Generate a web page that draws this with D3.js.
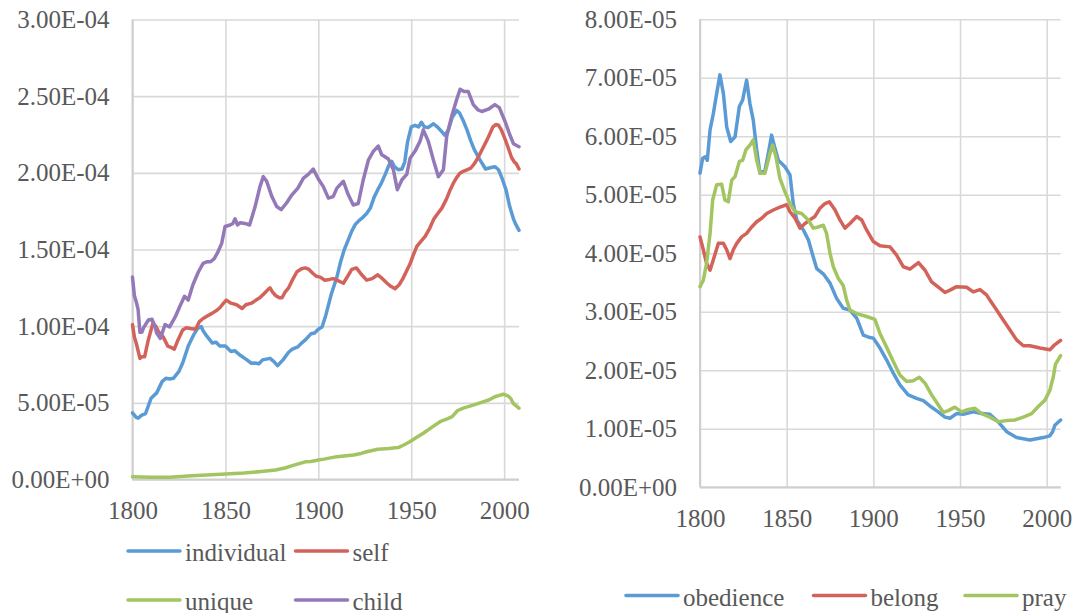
<!DOCTYPE html>
<html>
<head>
<meta charset="utf-8">
<script src="https://cdn.jsdelivr.net/npm/d3@7/dist/d3.min.js"></script>
<style>
body { margin: 0; background: #fff; }
svg text { font-family: "Liberation Serif", "DejaVu Serif", "Noto Serif", "Times New Roman", serif; fill: #595959; }
</style>
</head>
<body>
<svg width="1075" height="613"></svg>
<script>
// values are in units of 1e-5
var UNIT = 1e-5
var yearTicks = [1800, 1850, 1900, 1950, 2000]
var leftTicks = [0, 5, 10, 15, 20, 25, 30]
var rightTicks = [0, 1, 2, 3, 4, 5, 6, 7, 8]

var leftNames = ['individual', 'self', 'unique', 'child']
var rightNames = ['obedience', 'belong', 'pray']

var individual = [[1800,4.35],[1802,4.05],[1803,4.0],[1805,4.2],[1807,4.3],[1810,5.3],[1813,5.65],[1816,6.4],[1818,6.6],[1820,6.55],[1822,6.6],[1825,7.05],[1827,7.6],[1830,8.7],[1833,9.45],[1835,9.85],[1837,9.97],[1838,9.7],[1840,9.35],[1843,8.9],[1845,8.95],[1847,8.7],[1850,8.7],[1853,8.35],[1855,8.4],[1858,8.1],[1861,7.85],[1864,7.58],[1866,7.6],[1868,7.55],[1870,7.8],[1874,7.9],[1876,7.7],[1878,7.42],[1881,7.8],[1884,8.3],[1886,8.5],[1889,8.65],[1891,8.9],[1893,9.1],[1896,9.5],[1898,9.55],[1900,9.8],[1902,9.95],[1904,10.7],[1907,12.1],[1910,13.2],[1912,14.2],[1914,15.0],[1916,15.6],[1918,16.2],[1920,16.65],[1922,16.9],[1924,17.1],[1926,17.35],[1928,17.7],[1930,18.4],[1932,18.9],[1934,19.35],[1936,19.9],[1938,20.5],[1939.5,20.75],[1941,20.4],[1943,20.2],[1945,20.25],[1946.5,20.7],[1948,22.0],[1950,23.0],[1952,23.1],[1954,23.0],[1955.5,23.3],[1957,23.0],[1959,22.95],[1962,23.2],[1964,23.0],[1966,22.75],[1968,22.45],[1970,22.8],[1972,23.6],[1974.5,24.07],[1976,23.9],[1978,23.4],[1980,22.8],[1982,22.1],[1984,21.5],[1987,20.85],[1990,20.25],[1993,20.35],[1995,20.4],[1997,20.2],[1999,19.6],[2001,18.9],[2003,17.8],[2005,17.0],[2006,16.7],[2008,16.25]]

var self = [[1800,10.1],[1801,9.3],[1802,8.9],[1804,7.9],[1805,8.0],[1806.5,8.0],[1808.5,9.1],[1811,10.2],[1812.5,10.0],[1814,9.65],[1816.5,9.3],[1819,8.7],[1821,8.6],[1822.5,8.5],[1824.5,9.1],[1827,9.75],[1829,9.9],[1831,9.85],[1834,9.8],[1836,10.3],[1838,10.5],[1840,10.65],[1843,10.85],[1845,11.0],[1847,11.2],[1849,11.5],[1850.5,11.7],[1853,11.5],[1856,11.4],[1859,11.15],[1861,11.4],[1864,11.5],[1866.5,11.7],[1868.5,11.85],[1871,12.15],[1873,12.4],[1874,12.5],[1875.5,12.2],[1877,12.0],[1879,11.85],[1880.5,11.85],[1882,12.2],[1884,12.5],[1886,13.0],[1888.5,13.55],[1891,13.75],[1893,13.8],[1895,13.7],[1897,13.45],[1899,13.25],[1901,13.2],[1903.5,13.0],[1906,13.05],[1908,13.1],[1910,13.0],[1913.5,12.8],[1916,13.3],[1918,13.7],[1920.5,13.8],[1923,13.4],[1926,13.0],[1929,13.1],[1932,13.35],[1934.5,13.1],[1937,12.8],[1939,12.6],[1941.3,12.45],[1943.5,12.7],[1945.5,13.1],[1947.5,13.6],[1949.5,14.1],[1951,14.6],[1953,15.2],[1955,15.5],[1957.5,15.85],[1960,16.4],[1962,16.95],[1964,17.3],[1966.5,17.7],[1969,18.3],[1971,18.9],[1973,19.4],[1974.5,19.7],[1976,19.95],[1978,20.1],[1980,20.2],[1982,20.3],[1984,20.6],[1986,21.0],[1988.5,21.6],[1991,22.2],[1992.5,22.6],[1994,23.0],[1995.5,23.15],[1997,23.1],[1998.5,22.8],[2000.5,22.2],[2002,21.7],[2004,21.0],[2005.5,20.7],[2006.5,20.6],[2008,20.25]]

var unique = [[1800,0.18],[1810,0.15],[1820,0.14],[1832,0.25],[1840,0.3],[1850,0.36],[1860,0.42],[1868,0.51],[1877,0.62],[1882,0.75],[1886,0.9],[1893,1.15],[1896,1.17],[1900,1.27],[1903,1.33],[1910,1.49],[1919,1.6],[1923,1.7],[1926,1.81],[1932,1.97],[1938,2.02],[1943,2.08],[1946,2.25],[1949,2.45],[1953,2.75],[1956.5,3.02],[1961,3.4],[1965.5,3.77],[1970,3.99],[1972,4.1],[1975,4.5],[1978,4.65],[1982,4.8],[1985,4.92],[1989,5.08],[1992,5.2],[1995,5.4],[1997,5.47],[1999.6,5.56],[2002,5.45],[2003.5,5.3],[2005,4.95],[2006.5,4.8],[2008,4.65]]

var child = [[1800,13.2],[1801,12.0],[1802,11.6],[1803,11.1],[1804,9.6],[1805,9.6],[1806,9.9],[1808.5,10.4],[1810.5,10.45],[1812,10.0],[1813,9.55],[1815,9.2],[1817.5,10.1],[1820,9.95],[1823,10.6],[1825.5,11.3],[1828,11.95],[1830,11.7],[1832.5,12.7],[1835.5,13.55],[1838,14.1],[1840,14.2],[1842,14.2],[1844,14.4],[1846,14.85],[1848,15.4],[1849.8,16.5],[1852.5,16.6],[1854,16.7],[1855.2,17.0],[1856.5,16.6],[1858,16.75],[1860.5,16.7],[1863,16.6],[1866,17.8],[1868.6,19.1],[1870.4,19.75],[1872.2,19.45],[1875,18.45],[1877.6,17.8],[1880,17.6],[1883,18.05],[1885.7,18.55],[1889,19.0],[1892,19.65],[1894.6,19.9],[1897.3,20.25],[1900,19.6],[1902.7,19.1],[1905.4,18.35],[1908,18.45],[1910,19.0],[1913.5,19.45],[1916,18.6],[1918.8,17.9],[1921.5,18.0],[1924.2,19.55],[1927,20.85],[1929.6,21.4],[1932.3,21.75],[1934,21.2],[1937.7,20.9],[1940.4,20.2],[1942.5,18.9],[1945,19.55],[1947.6,19.9],[1949.4,20.95],[1952,21.4],[1954.7,22.05],[1956.5,22.8],[1959.2,22.05],[1961.9,20.85],[1964.6,19.75],[1967.3,20.2],[1969.1,22.4],[1971.8,23.7],[1974.5,24.8],[1976.3,25.45],[1978.4,25.3],[1980.7,25.3],[1983.4,24.45],[1986,24.1],[1988,24.0],[1991.5,24.15],[1995,24.45],[1997.4,24.25],[2000.5,23.35],[2003,22.5],[2005,21.9],[2008,21.7]]

var obedience = [[1800,5.37],[1801.5,5.62],[1803,5.65],[1804.2,5.59],[1805.8,6.11],[1807.7,6.39],[1809.6,6.73],[1811.5,7.05],[1813.5,6.73],[1815.4,6.16],[1817.7,5.91],[1820.2,5.99],[1822.7,6.51],[1824.6,6.62],[1826.9,6.96],[1828.8,6.56],[1830.7,6.28],[1832.7,5.77],[1834.6,5.37],[1837.5,5.42],[1839.4,5.71],[1841.3,6.02],[1843.3,5.79],[1845.2,5.59],[1849,5.48],[1851.9,5.34],[1853.8,4.85],[1855.8,4.57],[1859.6,4.4],[1862.5,4.23],[1865.3,3.94],[1867.3,3.74],[1871.1,3.65],[1875,3.49],[1878.8,3.23],[1882.6,3.06],[1886.5,3.03],[1890.4,2.89],[1894.2,2.6],[1898,2.56],[1900,2.55],[1903.8,2.38],[1907.6,2.18],[1911.5,1.95],[1915.3,1.75],[1920.1,1.58],[1924.9,1.52],[1928.8,1.48],[1932.6,1.39],[1937.4,1.29],[1941.3,1.2],[1944.2,1.18],[1948,1.26],[1951.8,1.25],[1957.6,1.29],[1962.5,1.26],[1967.2,1.25],[1972,1.12],[1976.9,0.95],[1982.6,0.85],[1990.3,0.81],[1998,0.85],[2001.8,0.88],[2003.4,0.95],[2004.7,1.06],[2008,1.15]]

var belong = [[1800,4.28],[1801.9,4.06],[1803.8,3.83],[1805.8,3.71],[1807.7,3.89],[1810.6,4.17],[1813.5,4.17],[1815.4,4.06],[1817.3,3.91],[1819.2,4.06],[1821.2,4.17],[1824,4.28],[1826.9,4.34],[1829.8,4.45],[1832.7,4.54],[1835.6,4.6],[1838.5,4.68],[1842.3,4.74],[1846.1,4.79],[1850,4.83],[1851.9,4.71],[1854.8,4.6],[1857.7,4.43],[1860.6,4.51],[1863.4,4.57],[1866.3,4.63],[1869.2,4.77],[1872.1,4.85],[1874.6,4.88],[1877.9,4.74],[1880.7,4.57],[1883.6,4.43],[1886.5,4.51],[1890.4,4.63],[1893.3,4.57],[1896.1,4.4],[1900,4.2],[1903.8,4.13],[1909.6,4.11],[1913.4,3.97],[1917.3,3.77],[1921.1,3.73],[1926,3.84],[1929.8,3.71],[1933.6,3.51],[1938.4,3.4],[1941.3,3.33],[1944.2,3.37],[1948,3.43],[1953.8,3.42],[1957.6,3.34],[1961.5,3.38],[1965.3,3.29],[1967.2,3.2],[1971.1,3.03],[1974.9,2.86],[1978.8,2.69],[1982.6,2.52],[1986.5,2.42],[1990.3,2.42],[1996.1,2.38],[2001.8,2.35],[2004,2.42],[2008,2.51]]

var pray = [[1800,3.43],[1801.9,3.54],[1803.8,3.83],[1805.8,4.34],[1807.3,4.91],[1809.6,5.17],[1812.5,5.18],[1814.4,4.91],[1816.3,4.88],[1818.3,5.25],[1820.2,5.31],[1822.7,5.57],[1824.6,5.59],[1826.5,5.77],[1828.8,5.85],[1830.7,5.94],[1832.7,5.59],[1834.6,5.37],[1837.5,5.37],[1840.4,5.71],[1841.9,5.85],[1843.8,5.65],[1846.1,5.28],[1849,5.05],[1851.9,4.85],[1854.8,4.71],[1858.6,4.68],[1862.5,4.57],[1865.3,4.43],[1868.2,4.45],[1871.1,4.48],[1873,4.34],[1875,4.0],[1876.9,3.77],[1879.8,3.57],[1882.6,3.45],[1884.6,3.2],[1886.5,3.03],[1890.4,2.97],[1896.1,2.92],[1900.9,2.87],[1903.8,2.63],[1907.6,2.4],[1911.5,2.15],[1915.3,1.92],[1919.2,1.81],[1923,1.82],[1926.5,1.88],[1929.8,1.78],[1933.6,1.58],[1937.4,1.41],[1940.3,1.28],[1943.2,1.31],[1947,1.37],[1950.9,1.29],[1954.7,1.33],[1958.6,1.35],[1962.5,1.26],[1967.2,1.2],[1972,1.12],[1976.9,1.14],[1981.7,1.15],[1986.5,1.2],[1991.3,1.26],[1995.1,1.38],[1999,1.49],[2001.8,1.66],[2003.8,1.89],[2005,2.1],[2008,2.25]]

var blue = '#5B9BD5', red = '#D3635A', green = '#A3C561', purple = '#9479B8'

// Excel style 0.00E+00
function sci(v) {
    var parts = v.toExponential(2).toUpperCase().split('E')
    var e = parseInt(parts[1])
    return parts[0] + 'E' + (e < 0 ? '-' : '+') + (Math.abs(e) < 10 ? '0' : '') + Math.abs(e)
}

var svg = d3.select('svg')
svg.append('rect').attr('width', 1075).attr('height', 613).attr('fill', '#fff')

function panel(p) {
    var x = d3.scaleLinear().domain([1800, 2008]).range([p.left, p.right])
    var y = d3.scaleLinear().domain([0, p.ticks[p.ticks.length-1]*UNIT]).range([p.bottom, p.top])
    var g = svg.append('g')

    // horizontal grid + y labels
    g.append('g').attr('transform', 'translate(' + p.left + ',0)')
	.call(d3.axisLeft(y).tickValues(p.ticks.map(function(t){return t*UNIT}))
	      .tickSize(-(p.right - p.left)).tickPadding(23).tickFormat(sci))
    // vertical grid + x labels
    g.append('g').attr('transform', 'translate(0,' + p.bottom + ')')
	.call(d3.axisBottom(x).tickValues(yearTicks)
	      .tickSize(-(p.bottom - p.top)).tickPadding(22).tickFormat(d3.format('d')))
    g.selectAll('.domain').remove()
    g.selectAll('g').attr('font-family', null)
    g.selectAll('.tick line').attr('stroke', '#D9D9D9').attr('stroke-width', 1.6)
    g.selectAll('.tick text').attr('font-size', 25).attr('fill', '#595959')

    // axis lines
    g.append('line').attr('x1', p.left).attr('x2', p.left).attr('y1', p.top).attr('y2', p.bottom)
	.attr('stroke', '#CFCFCF').attr('stroke-width', 2)
    g.append('line').attr('x1', p.left).attr('x2', p.right).attr('y1', p.bottom).attr('y2', p.bottom)
	.attr('stroke', '#CFCFCF').attr('stroke-width', 2)

    var lineFunc = d3.line()
	.x(function(d){ return x(d[0]) })
	.y(function(d){ return y(d[1]*UNIT) })
    p.series.forEach(function(s) {
	g.append('path').attr('d', lineFunc(s.data))
	    .attr('fill', 'none').attr('stroke', s.color).attr('stroke-width', 3.5)
	    .attr('stroke-linejoin', 'round').attr('stroke-linecap', 'round')
    })

    // legend
    p.legend.forEach(function(l, i) {
	var s = p.series[i]
	g.append('line').attr('x1', l[0]).attr('x2', l[0] + 52).attr('y1', l[1]).attr('y2', l[1])
	    .attr('stroke', s.color).attr('stroke-width', 3.5).attr('stroke-linecap', 'round')
	g.append('text').attr('x', l[0] + 57).attr('y', l[1] + 10)
	    .attr('font-size', 25).text(s.name)
    })
}

panel({
    left: 132.5, right: 519, top: 19.5, bottom: 479.5,
    ticks: leftTicks,
    series: [
	{name: leftNames[0], data: individual, color: blue},
	{name: leftNames[1], data: self, color: red},
	{name: leftNames[2], data: unique, color: green},
	{name: leftNames[3], data: child, color: purple}
    ],
    legend: [[128, 551], [295.5, 551], [128, 600], [295.5, 600]]
})

panel({
    left: 700, right: 1060.6, top: 19.3, bottom: 487.3,
    ticks: rightTicks,
    series: [
	{name: rightNames[0], data: obedience, color: blue},
	{name: rightNames[1], data: belong, color: red},
	{name: rightNames[2], data: pray, color: green}
    ],
    legend: [[626, 595.5], [813.5, 595.5], [965, 595.5]]
})
</script>
</body>
</html>
